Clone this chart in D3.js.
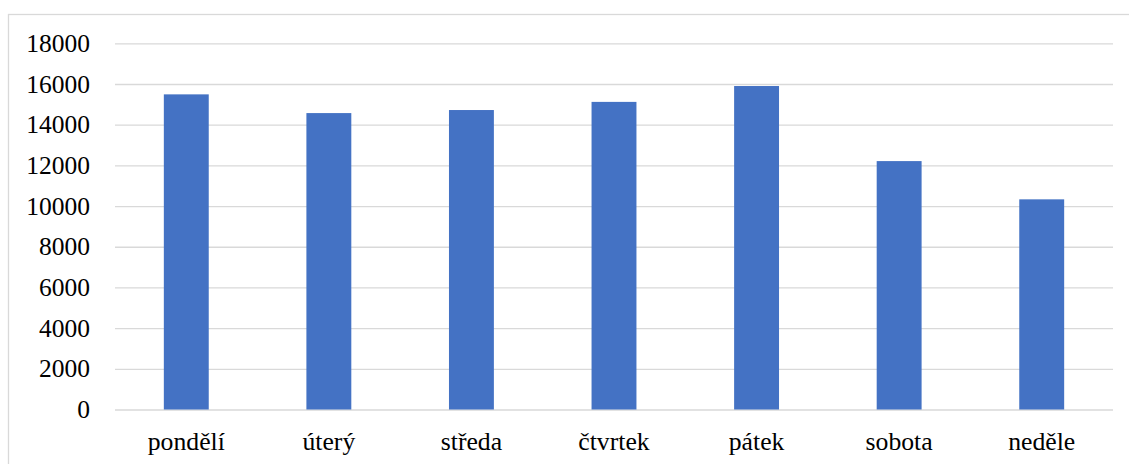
<!DOCTYPE html>
<html>
<head>
<meta charset="utf-8">
<script src="https://cdn.jsdelivr.net/npm/d3@7"></script>
</head>
<body style="margin:0;background:#fff">
<svg id="chart" width="1129" height="464"></svg>
<script>
// Weekly counts by day of the week
const days = ["pondělí", "úterý", "středa", "čtvrtek", "pátek", "sobota", "neděle"];
const counts = [15490, 14570, 14720, 15120, 15900, 12210, 10330];
const yTicks = [0, 2000, 4000, 6000, 8000, 10000, 12000, 14000, 16000, 18000];

const svg = d3.select("#chart");
const W = 1129, H = 464;
const plot = { left: 115, right: 1113, top: 43.3, bottom: 409.5 };
const serif = "Liberation Serif";

// chart frame (runs past the right and bottom edges)
svg.append("rect")
  .attr("x", 8.5).attr("y", 14.5)
  .attr("width", W + 10).attr("height", H + 10)
  .attr("fill", "#fff")
  .attr("stroke", "#d9d9d9")
  .attr("stroke-width", 1.3);

const x = d3.scaleBand()
  .domain(days)
  .range([plot.left, plot.right])
  .paddingInner(0.685)
  .paddingOuter(0.3425);

const y = d3.scaleLinear()
  .domain([0, 18000])
  .range([plot.bottom, plot.top]);

// horizontal gridlines (axis without labels)
const gy = svg.append("g")
  .attr("transform", `translate(${plot.left},0)`)
  .call(d3.axisLeft(y).tickValues(yTicks)
    .tickSize(-(plot.right - plot.left)).tickFormat(""));
gy.select(".domain").remove();
gy.selectAll(".tick line")
  .attr("stroke", "#d9d9d9")
  .attr("stroke-width", 1.3);

// value labels
svg.append("g").selectAll("text")
  .data(yTicks)
  .join("text")
  .attr("x", plot.left - 25)
  .attr("y", d => y(d))
  .attr("dy", "0.34em")
  .attr("text-anchor", "end")
  .attr("font-family", serif)
  .attr("font-size", 25.5)
  .attr("fill", "#000")
  .text(d => d3.format("d")(d));

// bars
svg.append("g")
  .selectAll("rect")
  .data(days)
  .join("rect")
  .attr("x", d => x(d))
  .attr("width", x.bandwidth())
  .attr("y", (d, i) => y(counts[i]))
  .attr("height", (d, i) => y(0) - y(counts[i]))
  .attr("fill", "#4472c4");

// category labels
svg.append("g").selectAll("text")
  .data(days)
  .join("text")
  .attr("x", d => x(d) + x.bandwidth() / 2)
  .attr("y", plot.bottom + 40.5)
  .attr("text-anchor", "middle")
  .attr("font-family", serif)
  .attr("font-size", 25.7)
  .attr("fill", "#000")
  .text(d => d);
</script>
</body>
</html>
